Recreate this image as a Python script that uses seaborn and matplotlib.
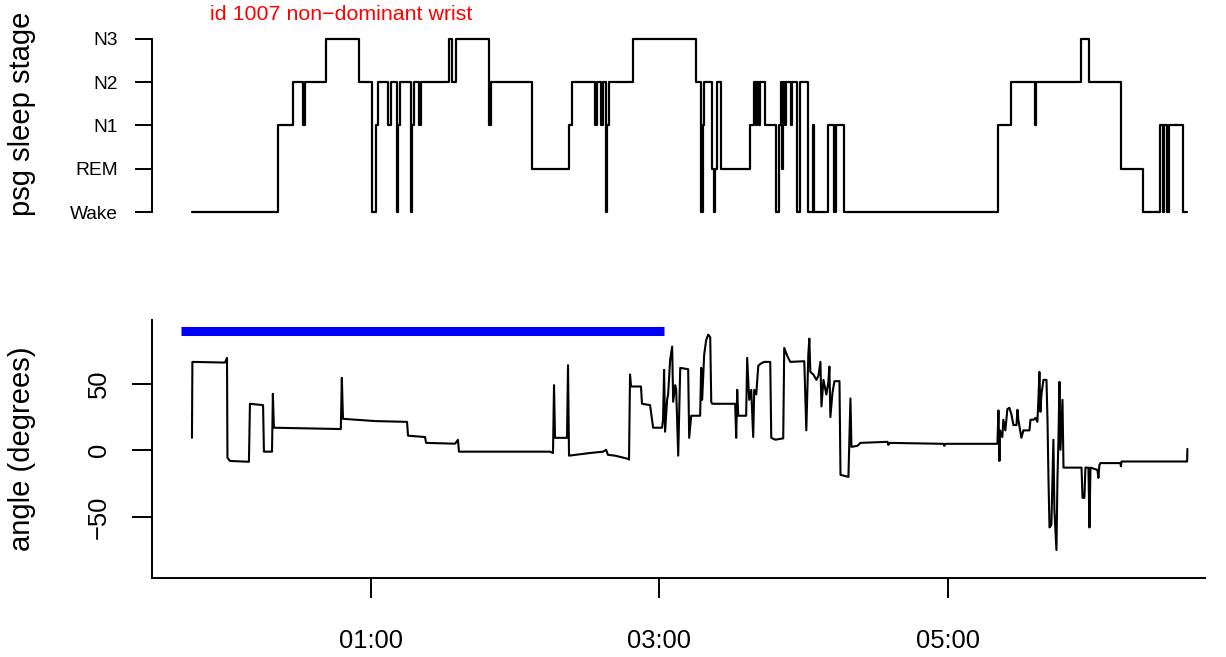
import matplotlib
matplotlib.use("Agg")
import matplotlib.pyplot as plt
import pandas as pd
import seaborn as sns

sns.set_theme(style="ticks", rc={
    "axes.edgecolor": "black",
    "axes.labelcolor": "black",
    "text.color": "black",
    "xtick.color": "black",
    "ytick.color": "black",
    "axes.linewidth": 1.4,
    "xtick.major.width": 1.4,
    "ytick.major.width": 1.4,
})
plt.rcParams["font.family"] = ["Liberation Sans", "DejaVu Sans"]

# ---------------------------------------------------------------- data
title_text = "id 1007 non\u2212dominant wrist"

# PSG hypnogram: stage changes (hours after midnight) and stage code
stage_names = ["Wake", "REM", "N1", "N2", "N3"]          # codes 1..5
stage_hours = [
    -0.241, 0.355, 0.459, 0.529, 0.542, 0.688, 0.917, 1.007, 1.035, 1.049,
    1.118, 1.139, 1.180, 1.187, 1.201, 1.277, 1.284, 1.298, 1.333, 1.347,
    1.541, 1.562, 1.589, 1.818, 1.832, 2.116, 2.373, 2.393, 2.553, 2.567,
    2.594, 2.608, 2.629, 2.636, 2.650, 2.816, 3.253, 3.288, 3.302, 3.308,
    3.364, 3.378, 3.385, 3.399, 3.426, 3.627, 3.655, 3.669, 3.676, 3.690,
    3.697, 3.731, 3.808, 3.828, 3.842, 3.849, 3.856, 3.870, 3.877, 3.911,
    3.918, 3.953, 3.974, 4.029, 4.064, 4.071, 4.168, 4.210, 4.224, 4.279,
    5.347, 5.437, 5.603, 5.610, 5.922, 5.977, 6.199, 6.352, 6.470, 6.491,
    6.498, 6.519, 6.533, 6.629, 6.658,
]
stage_code = [
    1, 3, 4, 3, 4, 5, 4, 1, 3, 4,
    3, 4, 1, 3, 4, 1, 3, 4, 3, 4,
    5, 4, 5, 3, 4, 2, 3, 4, 3, 4,
    3, 4, 1, 3, 4, 5, 4, 1, 3, 4,
    2, 1, 2, 4, 2, 3, 4, 3, 4, 3,
    4, 3, 1, 3, 4, 2, 4, 3, 4, 3,
    4, 1, 4, 1, 3, 1, 3, 1, 3, 1,
    3, 4, 3, 4, 5, 4, 2, 1, 3, 1,
    3, 1, 3, 1, 1,
]

# wrist angle trace (hours after midnight, degrees)
angle_hours = [
    -0.241, -0.238, -0.012, 0.002, 0.005, 0.023, 0.154, 0.161, 0.252, 0.258,
    0.314, 0.320, 0.327, 0.791, 0.798, 0.806, 1.028, 1.250, 1.257, 1.375,
    1.382, 1.583, 1.603, 1.610, 2.241, 2.262, 2.269, 2.276, 2.359, 2.366,
    2.373, 2.519, 2.609, 2.630, 2.643, 2.692, 2.782, 2.789, 2.796, 2.803,
    2.872, 2.879, 2.935, 2.956, 3.018, 3.025, 3.032, 3.039, 3.053, 3.060,
    3.074, 3.088, 3.095, 3.109, 3.116, 3.130, 3.144, 3.199, 3.206, 3.220,
    3.282, 3.289, 3.296, 3.310, 3.324, 3.338, 3.352, 3.359, 3.366, 3.525,
    3.532, 3.539, 3.546, 3.601, 3.608, 3.622, 3.636, 3.650, 3.657, 3.671,
    3.685, 3.699, 3.726, 3.768, 3.775, 3.803, 3.858, 3.865, 3.886, 3.907,
    4.004, 4.018, 4.032, 4.039, 4.046, 4.067, 4.088, 4.102, 4.116, 4.123,
    4.137, 4.157, 4.171, 4.178, 4.185, 4.199, 4.213, 4.248, 4.255, 4.310,
    4.324, 4.331, 4.373, 4.393, 4.580, 4.587, 4.594, 4.968, 4.975, 4.982,
    5.343, 5.350, 5.357, 5.361, 5.377, 5.384, 5.398, 5.412, 5.426, 5.440,
    5.454, 5.475, 5.482, 5.488, 5.509, 5.523, 5.565, 5.572, 5.593, 5.607,
    5.620, 5.627, 5.634, 5.641, 5.648, 5.662, 5.683, 5.690, 5.697, 5.704,
    5.717, 5.731, 5.738, 5.752, 5.759, 5.766, 5.773, 5.780, 5.794, 5.801,
    5.926, 5.933, 5.946, 5.953, 5.974, 5.981, 5.988, 6.036, 6.043, 6.050,
    6.057, 6.196, 6.199, 6.203, 6.658, 6.660,
]
angle_deg = [
    9.4, 66.5, 66.0, 69.5, -5.6, -8.0, -8.6, 35.0, 34.0, -1.0,
    -1.0, 42.5, 17.0, 16.0, 54.5, 23.7, 22.0, 21.4, 11.0, 10.0,
    5.6, 5.0, 7.9, -1.0, -1.0, -2.0, 49.0, 9.4, 9.4, 64.0,
    -4.0, -2.0, -1.0, 0.4, -3.4, -4.0, -6.4, -7.0, 57.0, 48.0,
    48.0, 35.0, 34.0, 17.0, 17.0, 23.0, 60.5, 14.0, 38.0, 42.0,
    68.0, 78.0, 36.5, 49.0, 45.5, -4.0, 62.0, 61.0, 9.4, 26.0,
    26.0, 62.0, 38.0, 72.0, 83.0, 87.0, 85.0, 36.5, 35.0, 35.0,
    9.4, 45.5, 26.0, 26.0, 69.5, 38.0, 45.5, 10.0, 45.5, 42.0,
    63.5, 65.0, 66.5, 66.5, 9.4, 8.0, 9.0, 77.0, 71.0, 66.5,
    67.0, 15.0, 72.0, 84.0, 59.0, 57.0, 53.0, 56.0, 66.5, 33.0,
    53.0, 42.0, 51.5, 63.0, 25.0, 43.0, 52.0, 52.0, -18.4, -20.0,
    39.0, 2.6, 3.4, 5.6, 6.4, 4.1, 5.6, 4.9, 3.4, 4.9,
    4.9, 30.0, -8.0, 15.0, 10.0, 23.0, 15.0, 31.0, 32.0, 27.0,
    19.0, 19.0, 30.5, 23.0, 9.4, 15.0, 15.0, 23.0, 23.0, 24.4,
    21.4, 38.0, 59.0, 29.0, 42.0, 53.0, 53.0, 23.0, -22.0, -58.0,
    -56.0, 8.0, -45.0, -75.0, -22.0, 8.0, 51.5, 0.4, 38.0, -13.0,
    -13.0, -35.7, -35.7, -13.0, -13.0, -58.0, -13.0, -14.7, -20.7, -11.0,
    -9.6, -9.6, -12.0, -8.4, -8.4, 1.1,
]

# highlighted interval drawn above the trace
window_hours = [-0.317, 3.030]
window_angle = [90, 90]

time_ticks = [1, 3, 5]
time_labels = ["01:00", "03:00", "05:00"]
angle_ticks = [-50, 0, 50]

# ---------------------------------------------------------------- figure
W, H = 1226, 657
fig = plt.figure(figsize=(W / 100, H / 100), dpi=100)
xlim = (-0.518, 6.782)

def frac(x0, y0, x1, y1):
    return [x0 / W, 1 - y1 / H, (x1 - x0) / W, (y1 - y0) / H]

ax_top = fig.add_axes(frac(152, 32, 1205, 219))
ax_bot = fig.add_axes(frac(152, 320, 1205, 578))

# hypnogram
hyp = pd.DataFrame({"hour": stage_hours, "stage": stage_code})
sns.lineplot(data=hyp, x="hour", y="stage", ax=ax_top, color="black",
             lw=1.6, drawstyle="steps-post", estimator=None, sort=False)
ax_top.set_xlim(*xlim)
ax_top.set_ylim(0.84, 5.16)
ax_top.set_yticks(range(1, 6))
ax_top.set_yticklabels(stage_names, fontsize=13.8)
ax_top.set_xticks([])
ax_top.set_xlabel("")
for s in ["top", "right", "bottom"]:
    ax_top.spines[s].set_visible(False)
ax_top.spines["left"].set_bounds(1, 5)
ax_top.tick_params(axis="y", length=12.5, pad=12)
ax_top.set_ylabel("psg sleep stage", fontsize=21)
ax_top.yaxis.set_label_coords(-0.110, 0.56)

# wrist angle
ang = pd.DataFrame({"hour": angle_hours, "angle": angle_deg})
sns.lineplot(data=ang, x="hour", y="angle", ax=ax_bot, color="black",
             lw=1.5, estimator=None, sort=False)
sns.lineplot(x=window_hours, y=window_angle, ax=ax_bot, color="#0000FF",
             lw=6.5, estimator=None, sort=False, solid_capstyle="butt")
ax_bot.set_xlim(*xlim)
ax_bot.set_ylim(-96, 98)
ax_bot.set_xticks(time_ticks)
ax_bot.set_xticklabels(time_labels, fontsize=18.4)
ax_bot.set_yticks(angle_ticks)
ax_bot.tick_params(axis="y", labelsize=18.4, length=14.4, pad=15)
ax_bot.tick_params(axis="x", length=14.4, pad=22)
for lab in ax_bot.get_yticklabels():
    lab.set_rotation(90)
    lab.set_va("center")
for s in ["top", "right"]:
    ax_bot.spines[s].set_visible(False)
ax_bot.set_xlabel("")
ax_bot.set_ylabel("angle (degrees)", fontsize=21)
ax_bot.yaxis.set_label_coords(-0.110, 0.5)

fig.text(341 / W, 1 - 15 / H, title_text, color="red", fontsize=15.4,
         ha="center", va="center")

fig.savefig("out.png", dpi=100, facecolor="white")
